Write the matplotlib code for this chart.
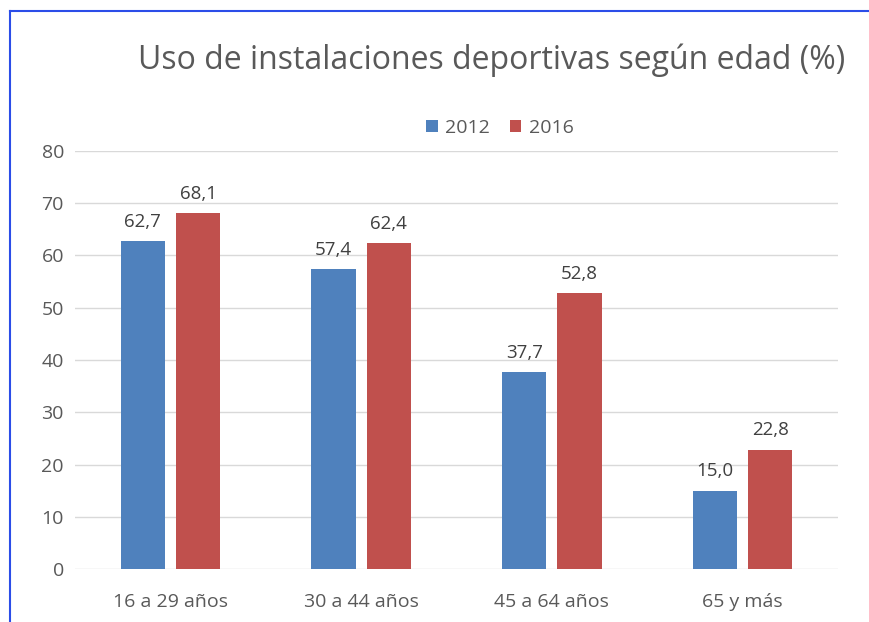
import matplotlib.pyplot as plt
import numpy as np
from matplotlib.lines import Line2D

# data
categories = ["16 a 29 años", "30 a 44 años", "45 a 64 años", "65 y más"]
years = ["2012", "2016"]
values2012 = [62.7, 57.4, 37.7, 15.0]
values2016 = [68.1, 62.4, 52.8, 22.8]
colors = ["#4f81bd", "#c0504d"]

plt.rcParams['font.family'] = ['Open Sans', 'DejaVu Sans']

fig = plt.figure(figsize=(8.69, 6.22), dpi=100)
ax = fig.add_axes([75 / 869, 1 - 569 / 622, (838 - 75) / 869, (569 - 151) / 622])

x = np.arange(len(categories))
w = 0.232
off = 0.145
b1 = ax.bar(x - off, values2012, w, color=colors[0], label=years[0], zorder=3)
b2 = ax.bar(x + off, values2016, w, color=colors[1], label=years[1], zorder=3)

for bars, vals in ((b1, values2012), (b2, values2016)):
    for r, v in zip(bars, vals):
        ax.text(r.get_x() + r.get_width() / 2, v + 2.0, f"{v:.1f}".replace(".", ","),
                ha="center", va="bottom", fontsize=13.5, color="#404040")

ax.set_xlim(-0.5, len(categories) - 0.5)
ax.set_ylim(0, 80)
ax.set_yticks(range(0, 81, 10))
ax.set_xticks(x)
ax.set_xticklabels(categories)
ax.grid(axis="y", color="#d9d9d9", linewidth=1, zorder=0)
for s in ax.spines.values():
    s.set_visible(False)
ax.tick_params(length=0, labelsize=14, colors="#595959")
ax.tick_params(axis="y", pad=8)
ax.tick_params(axis="x", pad=17)

fig.text(492 / 869, 1 - 60 / 622, "Uso de instalaciones deportivas según edad (%)",
         ha="center", va="center", fontsize=23, color="#595959")

leg = fig.legend(handles=[b1, b2], labels=years, loc="center", bbox_to_anchor=(500 / 869, 1 - 128 / 622),
                 ncol=2, frameon=False, fontsize=14, handlelength=0.6, handleheight=0.6,
                 handletextpad=0.4, columnspacing=1.0)
for t in leg.get_texts():
    t.set_color("#595959")

# blue frame lines from the screenshot
fig.add_artist(Line2D([10 / 869, 10 / 869], [0, 1 - 11 / 622], transform=fig.transFigure, color="#2b4de8", lw=1.5))
fig.add_artist(Line2D([10 / 869, 1], [1 - 11 / 622, 1 - 11 / 622], transform=fig.transFigure, color="#2b4de8", lw=1.5))

fig.savefig("out.png", dpi=100)
